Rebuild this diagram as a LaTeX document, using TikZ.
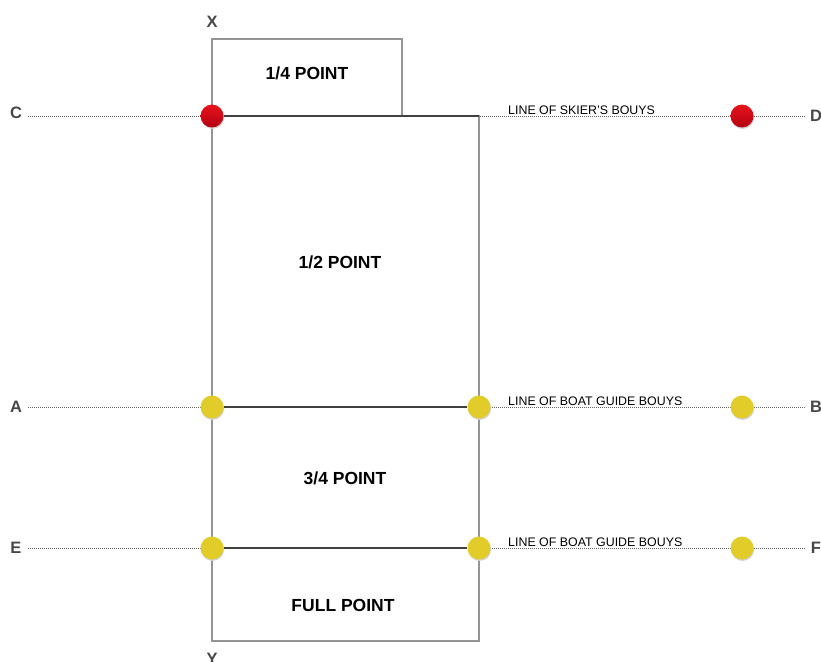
\documentclass[tikz,border=0pt]{standalone}
\usepackage{fontspec}
\setmainfont{Liberation Sans}
\begin{document}
\begin{tikzpicture}[x=1pt,y=-1pt,
  boxline/.style={draw=black!42,line width=1.1pt},
  dotline/.style={draw=black!60,line width=0.9pt,dash pattern=on 1pt off 1pt},
  solidline/.style={draw=black!75,line width=1.1pt},
  bigtxt/.style={font=\fontsize{17.5}{20}\selectfont\bfseries,text=black,inner sep=0pt},
  lettxt/.style={font=\fontsize{16.5}{18}\selectfont\bfseries,text=black!72,inner sep=0pt},
  smalltxt/.style={font=\fontsize{12.4}{14}\selectfont,text=black,inner sep=0pt,anchor=base west},
  reddot/.style={circle,minimum size=23pt,inner sep=0pt,draw=none,top color={rgb,255:red,232;green,20;blue,28},bottom color={rgb,255:red,178;green,0;blue,18}},
  yeldot/.style={circle,minimum size=23pt,inner sep=0pt,draw=none,fill={rgb,255:red,226;green,204;blue,42}},
  shadowdot/.style={circle,minimum size=23pt,inner sep=0pt,draw=none,fill=black!18}
]
\useasboundingbox (0,0) rectangle (821,661);
% labels
\node[lettxt] (X) at (212,22) {X};
\node[lettxt] (Y) at (212,659) {Y};
\node[lettxt] (C) at (16,113) {C};
\node[lettxt] (D) at (816,116) {D};
\node[lettxt] (A) at (16,407) {A};
\node[lettxt] (B) at (816,407) {B};
\node[lettxt] (E) at (16,548) {E};
\node[lettxt] (F) at (816,548) {F};
% line end coordinates
\coordinate (cl) at (28,116); \coordinate (cr) at (805,116);
\coordinate (al) at (28,407); \coordinate (ar) at (805,407);
\coordinate (el) at (28,548); \coordinate (er) at (805,548);
% boxes
\node[boxline,minimum width=190pt,minimum height=77pt,inner sep=0pt] (quarter) at (307,77.5) {};
\node[boxline,minimum width=267pt,minimum height=525pt,inner sep=0pt] (main) at (345.5,378.5) {};
% dotted lines
\draw[dotline] (cl) -- (cr);
\draw[dotline] (al) -- (ar);
\draw[dotline] (el) -- (er);
% dot shadows
\foreach \n/\px/\py in {s1/212/116,s2/742/116,s3/212/407,s4/479/407,s5/742/407,s6/212/548,s7/479/548,s8/742/548}
  \node[shadowdot] (sh\n) at (\px+0.6,\py+1.4) {};
% dots
\node[reddot] (c1) at (212,116) {};
\node[reddot] (c2) at (742,116) {};
\node[yeldot] (a1) at (212,407) {};
\node[yeldot] (a2) at (479,407) {};
\node[yeldot] (a3) at (742,407) {};
\node[yeldot] (e1) at (212,548) {};
\node[yeldot] (e2) at (479,548) {};
\node[yeldot] (e3) at (742,548) {};
\coordinate (cm) at (479,116);
% solid segments
\draw[solidline] (c1.east) -- (cm);
\draw[solidline] (a1.east) -- (a2.west);
\draw[solidline] (e1.east) -- (e2.west);
% region texts
\node[bigtxt] (t1) at (307,73) {1/4 POINT};
\node[bigtxt] (t2) at (340,262) {1/2 POINT};
\node[bigtxt] (t3) at (345,478) {3/4 POINT};
\node[bigtxt] (t4) at (343,605) {FULL POINT};
% line captions
\node[smalltxt] (s1) at (508,114) {LINE OF SKIER'S BOUYS};
\node[smalltxt] (s2) at (508,405) {LINE OF BOAT GUIDE BOUYS};
\node[smalltxt] (s3) at (508,546) {LINE OF BOAT GUIDE BOUYS};
\end{tikzpicture}
\end{document}
